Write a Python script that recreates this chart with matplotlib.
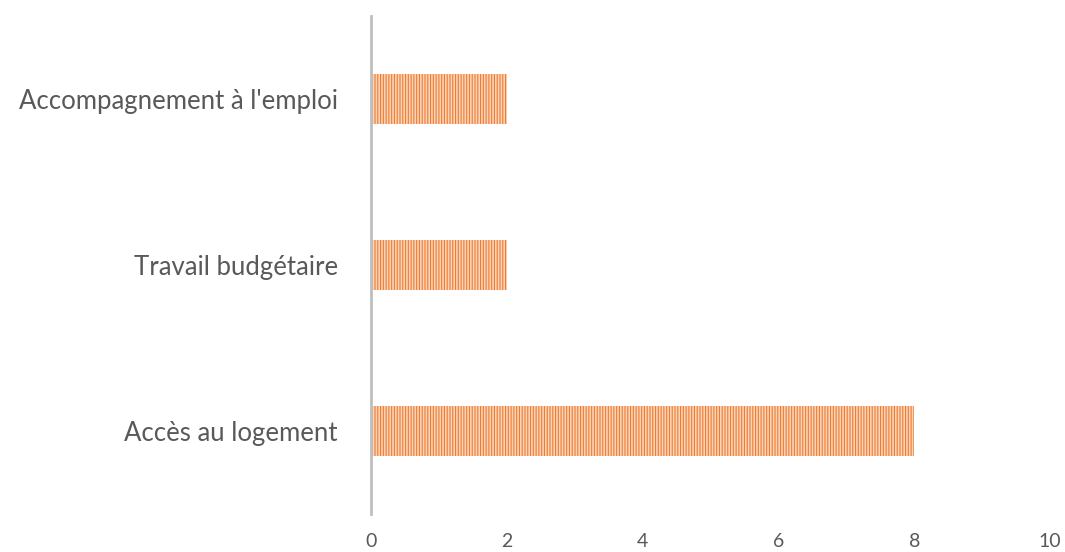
import matplotlib.pyplot as plt

categories = ["Accès au logement", "Travail budgétaire", "Accompagnement à l'emploi"]
values = [8, 2, 2]
xticks = [0, 2, 4, 6, 8, 10]

plt.rcParams['font.family'] = ['Lato', 'DejaVu Sans']
plt.rcParams['hatch.linewidth'] = 1.2
plt.rcParams['hatch.color'] = '#FAD3B8'

fig = plt.figure(figsize=(10.65, 5.52), dpi=100)
ax = fig.add_axes([0.3484, 0.0688, 0.6375, 0.9022])

bars = ax.barh(range(len(categories)), values, height=0.3,
               color='#ED7D31', hatch='||||||', linewidth=0)

ax.set_xlim(0, 10)
ax.set_ylim(-0.5, 2.5)
ax.set_xticks(xticks)
ax.set_yticks(range(len(categories)))
ax.set_yticklabels(categories)
ax.tick_params(axis='both', length=0, labelcolor='#595959')
ax.tick_params(axis='y', pad=24, labelsize=18.5)
ax.tick_params(axis='x', pad=14, labelsize=14)

for s in ['top', 'right', 'bottom']:
    ax.spines[s].set_visible(False)
ax.spines['left'].set_color('#BFBFBF')
ax.spines['left'].set_linewidth(2)

fig.savefig('out.png', dpi=100)
